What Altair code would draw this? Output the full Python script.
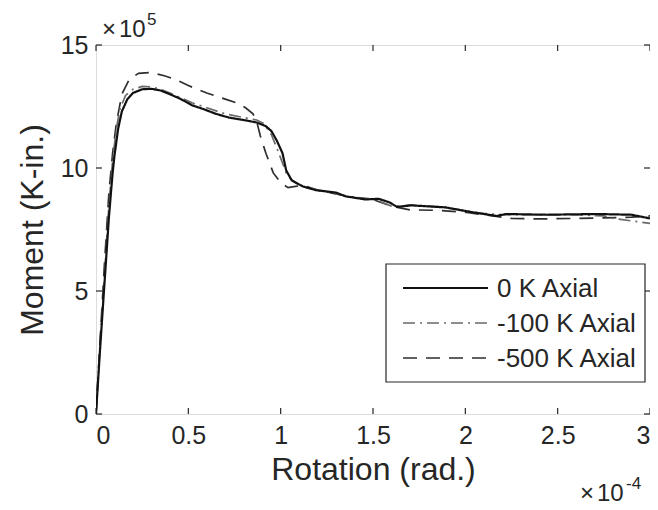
import altair as alt
import pandas as pd

# ---------------- data (x in 1e-4 rad, y in 1e5 K-in.) ----------------
series_names = ["0 K Axial", "-100 K Axial", "-500 K Axial"]

x_0k = [0, 0.02, 0.045, 0.07, 0.09, 0.1, 0.12, 0.14, 0.17, 0.2, 0.25, 0.3, 0.35, 0.4, 0.46,
        0.52, 0.58, 0.65, 0.72, 0.8, 0.87, 0.92, 0.95, 0.98, 1.01, 1.03, 1.06, 1.12, 1.19,
        1.3, 1.35, 1.46, 1.53, 1.59, 1.63, 1.71, 1.89, 2.04, 2.17, 2.22, 2.44, 2.71, 2.9, 3.0]
y_0k = [0, 2.4, 5.2, 8.0, 9.8, 10.5, 11.6, 12.3, 12.8, 13.05, 13.2, 13.22, 13.15, 13.0, 12.8,
        12.55, 12.4, 12.2, 12.05, 11.95, 11.85, 11.7, 11.5, 11.1, 10.6, 9.9, 9.5, 9.25, 9.1,
        9.0, 8.85, 8.72, 8.75, 8.6, 8.42, 8.48, 8.4, 8.2, 8.05, 8.13, 8.1, 8.13, 8.1, 7.95]

x_100k = [0, 0.02, 0.045, 0.07, 0.09, 0.11, 0.13, 0.16, 0.2, 0.25, 0.3, 0.35, 0.4, 0.46, 0.52,
          0.6, 0.7, 0.8, 0.87, 0.91, 0.95, 0.98, 1.0, 1.03, 1.06, 1.1, 1.2, 1.3, 1.4, 1.5,
          1.55, 1.6, 1.65, 1.7, 1.8, 1.9, 2.0, 2.1, 2.2, 2.4, 2.6, 2.75, 2.8, 2.9, 3.0]
y_100k = [0, 2.6, 5.5, 8.5, 10.3, 11.6, 12.4, 12.95, 13.2, 13.32, 13.3, 13.2, 13.05, 12.85, 12.65,
          12.45, 12.2, 12.05, 11.95, 11.8, 11.35, 10.8, 10.4, 9.8, 9.5, 9.3, 9.1, 8.95, 8.8, 8.75,
          8.6, 8.45, 8.45, 8.5, 8.45, 8.4, 8.25, 8.15, 8.1, 8.1, 8.1, 8.05, 7.95, 7.85, 7.75]

x_500k = [0, 0.02, 0.045, 0.07, 0.09, 0.11, 0.14, 0.18, 0.23, 0.3, 0.37, 0.43, 0.5, 0.6, 0.7,
          0.76, 0.81, 0.85, 0.87, 0.89, 0.92, 0.96, 1.0, 1.04, 1.08, 1.12, 1.2, 1.3, 1.4, 1.5,
          1.6, 1.7, 1.85, 2.0, 2.1, 2.25, 2.4, 2.6, 2.75, 2.9, 3.0]
y_500k = [0, 2.7, 6.0, 9.0, 10.6, 11.8, 13.0, 13.6, 13.85, 13.88, 13.75, 13.6, 13.35, 13.05, 12.8,
          12.65, 12.45, 12.2, 11.9, 11.3, 10.6, 9.8, 9.4, 9.2, 9.25, 9.3, 9.1, 8.95, 8.8, 8.72,
          8.45, 8.3, 8.28, 8.2, 8.1, 7.95, 7.93, 7.95, 7.97, 8.0, 8.05]

x_ticks = [0, 0.5, 1, 1.5, 2, 2.5, 3]
y_ticks = [0, 5, 10, 15]

# ---------------- styling ----------------
W, H = 554, 369
PL, PT = 88, 37          # plot origin at (96, 45) in the window
AX = "#262626"
FONT = "Liberation Sans"
styles = {
    "0 K Axial":    dict(color="#111111", dash=[1, 0], width=2.2),
    "-100 K Axial": dict(color="#6a6a6a", dash=[12, 5, 2, 5], width=1.7),
    "-500 K Axial": dict(color="#2e2e2e", dash=[14, 9], width=1.7),
}

xs = alt.Scale(domain=[0, 3], nice=False, zero=False)
ys = alt.Scale(domain=[0, 15], nice=False, zero=False)

frames = {
    "0 K Axial": pd.DataFrame({"rot": x_0k, "mom": y_0k}),
    "-100 K Axial": pd.DataFrame({"rot": x_100k, "mom": y_100k}),
    "-500 K Axial": pd.DataFrame({"rot": x_500k, "mom": y_500k}),
}

xaxis = alt.Axis(values=x_ticks, format="~g", ticks=False, domain=False, grid=False,
                 labelFont=FONT, labelFontSize=25, labelColor=AX, labelPadding=9,
                 title="Rotation (rad.)", titleFont=FONT, titleFontSize=32,
                 titleFontWeight="normal", titleColor=AX, titlePadding=6)
yaxis = alt.Axis(values=y_ticks, ticks=False, domain=False, grid=False,
                 labelFont=FONT, labelFontSize=25, labelColor=AX, labelPadding=8,
                 title="Moment (K-in.)", titleFont=FONT, titleFontSize=32,
                 titleFontWeight="normal", titleColor=AX, titlePadding=11)

X = lambda f: alt.X(f, scale=xs, axis=xaxis)
Y = lambda f: alt.Y(f, scale=ys, axis=yaxis)

layers = []
for name in ["-500 K Axial", "-100 K Axial", "0 K Axial"]:
    st = styles[name]
    layers.append(alt.Chart(frames[name]).mark_line(
        color=st["color"], strokeDash=st["dash"], strokeWidth=st["width"], clip=True
    ).encode(x=X("rot:Q"), y=Y("mom:Q"), order=alt.Order("rot:Q")))

xt = pd.DataFrame({"v": x_ticks})
yt = pd.DataFrame({"v": y_ticks})
TL = 6
tick_style = dict(color=AX, strokeWidth=1.2)
layers.append(alt.Chart(xt).mark_rule(**tick_style).encode(
    x=X("v:Q"), y=alt.value(H), y2=alt.value(H - TL)))
layers.append(alt.Chart(xt).mark_rule(**tick_style).encode(
    x=X("v:Q"), y=alt.value(0), y2=alt.value(TL)))
layers.append(alt.Chart(yt).mark_rule(**tick_style).encode(
    y=Y("v:Q"), x=alt.value(0), x2=alt.value(TL)))
layers.append(alt.Chart(yt).mark_rule(**tick_style).encode(
    y=Y("v:Q"), x=alt.value(W), x2=alt.value(W - TL)))

# exponent labels (positions relative to the plot origin)
one = pd.DataFrame({"a": [0]})
def txt(s, x, y, size, align="left", baseline="alphabetic"):
    return alt.Chart(one).mark_text(text=s, font=FONT, fontSize=size, color=AX,
                                    align=align, baseline=baseline).encode(
        x=alt.value(x), y=alt.value(y))

layers.append(txt("\u00d7", 6, -8, 24))
layers.append(txt("10", 23, -8, 24))
layers.append(txt("5", 51, -20, 17))
layers.append(txt("\u00d7", 484, 456, 24))
layers.append(txt("10", 501, 456, 24))
layers.append(txt("-4", 530, 444, 17))

# legend
OX, OY = PL + 8, PT + 8
LX0, LY0 = 386 - OX, 264 - OY
LX1, LY1 = 645 - OX, 382 - OY
layers.append(alt.Chart(one).mark_rect(fill="white", stroke=AX, strokeWidth=1.2).encode(
    x=alt.value(LX0), x2=alt.value(LX1), y=alt.value(LY0), y2=alt.value(LY1)))
rows = [288 - OY, 323 - OY, 358 - OY]
for name, ry in zip(series_names, rows):
    st = styles[name]
    layers.append(alt.Chart(one).mark_rule(color=st["color"], strokeDash=st["dash"],
                                           strokeWidth=st["width"]).encode(
        x=alt.value(403 - OX), x2=alt.value(488 - OX), y=alt.value(ry)))
    layers.append(txt(name, 497 - OX, ry + 1, 26, baseline="middle"))

chart = alt.layer(*layers).properties(
    width=W, height=H,
    autosize=alt.AutoSizeParams(type="none"),
    padding={"left": PL, "top": PT, "right": 0, "bottom": 95},
).configure_view(stroke=AX, strokeWidth=1.2).configure(background="white")

chart.save("out.html", embed_options={"renderer": "svg", "actions": False})
